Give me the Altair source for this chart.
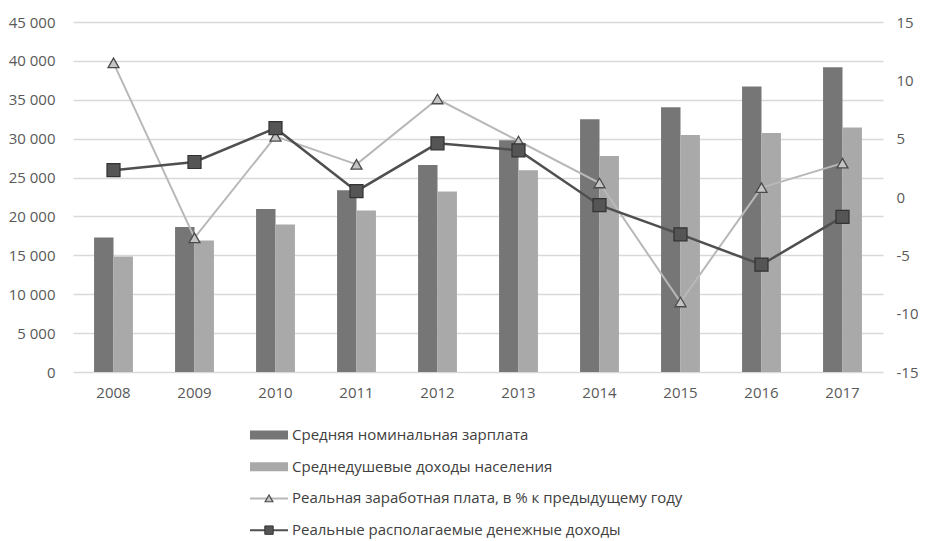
import altair as alt
import pandas as pd

years = ["2008", "2009", "2010", "2011", "2012", "2013", "2014", "2015", "2016", "2017"]
wage = [17290, 18640, 20950, 23370, 26630, 29790, 32500, 34030, 36710, 39170]
income = [14860, 16900, 18960, 20780, 23220, 25930, 27770, 30470, 30740, 31420]
real_wage = [11.5, -3.5, 5.2, 2.8, 8.4, 4.8, 1.2, -9.0, 0.8, 2.9]
real_income = [2.3, 3.0, 5.9, 0.5, 4.6, 4.0, -0.7, -3.2, -5.8, -1.7]

names = [
    "Средняя номинальная зарплата",
    "Среднедушевые доходы населения",
    "Реальная заработная плата, в % к предыдущему году",
    "Реальные располагаемые денежные доходы",
]
colors = ["#767676", "#a9a9a9", "#b8b8b8", "#4f4f4f"]

FONT = "Open Sans"
TXT = "#595959"

bars_df = pd.DataFrame(
    {"year": years * 2, "series": [names[0]] * 10 + [names[1]] * 10, "value": wage + income}
)
rw_df = pd.DataFrame({"year": years, "series": names[2], "value": real_wage})
ri_df = pd.DataFrame({"year": years, "series": names[3], "value": real_income})

xscale = alt.Scale(paddingInner=0.52, paddingOuter=0.26)
xaxis = alt.Axis(
    title=None, labelAngle=0, ticks=False, domain=False, labelFontSize=15,
    labelColor=TXT, labelPadding=13, labelFont=FONT,
)
W, H = 810, 350

bars = alt.Chart(bars_df).mark_bar().encode(
    x=alt.X("year:O", scale=xscale, axis=xaxis),
    xOffset=alt.XOffset("series:N", sort=names[:2]),
    y=alt.Y(
        "value:Q",
        scale=alt.Scale(domain=[0, 45000]),
        axis=alt.Axis(
            title=None, values=list(range(0, 45001, 5000)), domain=False, ticks=False,
            labelPadding=18, labelFontSize=15, labelColor=TXT, labelFont=FONT,
            gridColor="#d9d9d9", gridWidth=1.5,
            labelExpr="replace(format(datum.value, ','), ',', ' ')",
        ),
    ),
    color=alt.Color("series:N", scale=alt.Scale(domain=names[:2], range=colors[:2]), legend=None),
)

ry = alt.Y(
    "value:Q",
    scale=alt.Scale(domain=[-15, 15]),
    axis=alt.Axis(
        title=None, orient="right", values=list(range(-15, 16, 5)), grid=False,
        domain=False, ticks=False, labelPadding=13, labelFontSize=15,
        labelColor=TXT, labelFont=FONT, labelExpr="datum.value + ''",
    ),
)
xl = alt.X("year:O", scale=xscale, axis=xaxis)

rw_line = alt.Chart(rw_df).mark_line(color=colors[2], strokeWidth=2).encode(x=xl, y=ry)
rw_pts = alt.Chart(rw_df).mark_point(
    shape="triangle-up", filled=True, fill="#c4c4c4", stroke="#4a4a4a",
    strokeWidth=1.3, size=120, opacity=1,
).encode(x=xl, y=ry)
ri_line = alt.Chart(ri_df).mark_line(color=colors[3], strokeWidth=2.5).encode(x=xl, y=ry)
ri_pts = alt.Chart(ri_df).mark_point(
    shape="square", filled=True, fill="#555555", stroke="#333333",
    strokeWidth=1.2, size=170, opacity=1,
).encode(x=xl, y=ry)

top = alt.layer(bars, alt.layer(rw_line, ri_line, rw_pts, ri_pts)).resolve_scale(
    y="independent"
).properties(width=W, height=H)

# legend
leg_df = pd.DataFrame({"series": names, "kind": ["bar", "bar", "tri", "sq"]})
ly = alt.Y("series:N", sort=names, axis=None, scale=alt.Scale(type="point", padding=0.5))
lcol = alt.Color("series:N", scale=alt.Scale(domain=names, range=colors), legend=None)
LX = 177
leg_base = alt.Chart(leg_df)
sw_bar = leg_base.transform_filter("datum.kind == 'bar'").mark_rule(
    strokeWidth=9, strokeCap="butt"
).encode(x=alt.value(LX), x2=alt.value(LX + 38), y=ly, color=lcol)
sw_line = leg_base.transform_filter("datum.kind != 'bar'").mark_rule(
    strokeWidth=2
).encode(x=alt.value(LX), x2=alt.value(LX + 38), y=ly, color=lcol)
sw_tri = leg_base.transform_filter("datum.kind == 'tri'").mark_point(
    shape="triangle-up", filled=True, fill="#c4c4c4", stroke="#4a4a4a",
    strokeWidth=1.2, size=60, opacity=1,
).encode(x=alt.value(LX + 19), y=ly)
sw_sq = leg_base.transform_filter("datum.kind == 'sq'").mark_point(
    shape="square", filled=True, fill="#555555", stroke="#333333",
    strokeWidth=1, size=70, opacity=1,
).encode(x=alt.value(LX + 19), y=ly)
txt = leg_base.mark_text(
    align="left", baseline="middle", fontSize=15, color="#404040", font=FONT
).encode(x=alt.value(LX + 42), y=ly, text="series:N")

legend = alt.layer(sw_bar, sw_line, sw_tri, sw_sq, txt).properties(width=W, height=127)

chart = alt.vconcat(top, legend, spacing=19).resolve_scale(color="independent").properties(
    padding={"left": 0, "top": 7, "right": 0, "bottom": 0}
).configure(font=FONT).configure_view(stroke=None)

chart.save("out.html", embed_options={"renderer": "svg", "actions": False})
